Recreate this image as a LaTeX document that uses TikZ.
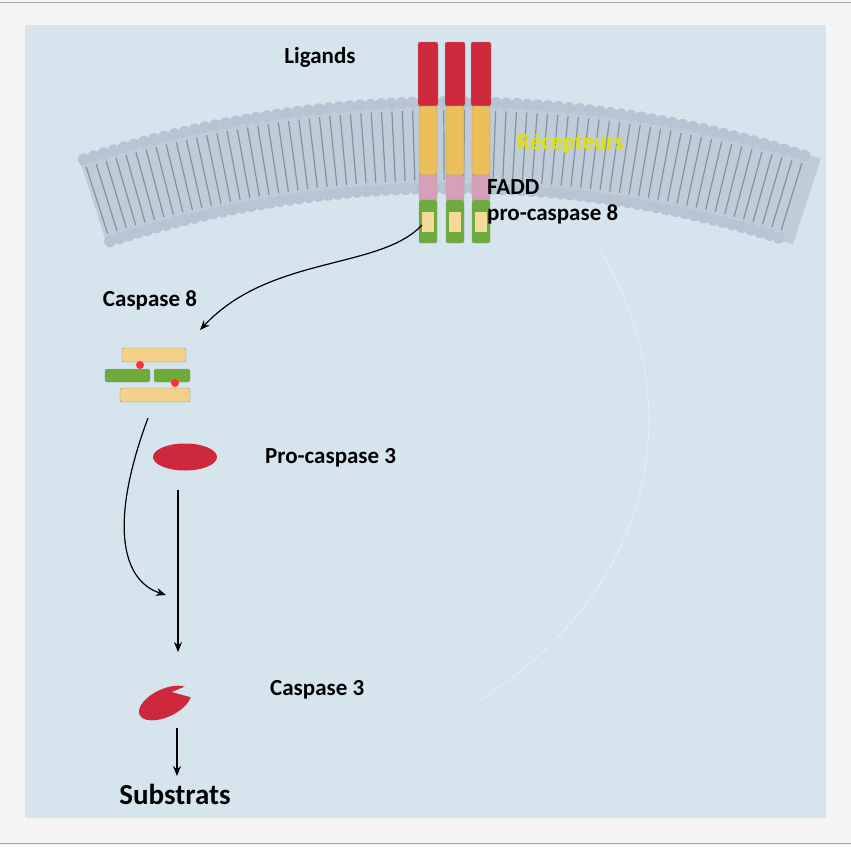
\documentclass[tikz,border=0pt]{standalone}
\usepackage{fontspec}
\setmainfont{Carlito}
\usetikzlibrary{arrows.meta,shapes.geometric}
\definecolor{panel}{RGB}{214,229,237}
\definecolor{lipid}{RGB}{150,172,192}
\definecolor{rodred}{RGB}{205,40,60}
\definecolor{rodyel}{RGB}{236,190,90}
\definecolor{rodpink}{RGB}{215,160,185}
\definecolor{rodgreen}{RGB}{110,170,60}
\definecolor{labyel}{RGB}{225,225,0}

\begin{document}
\begin{tikzpicture}[x=1pt,y=-1pt,
    lab/.style={font=\bfseries\fontsize{23}{25}\selectfont,inner sep=0pt},
    link/.style={line width=1.2pt,-{Stealth[length=10pt,width=8pt]}},
    rod/.style={draw=black!40,line width=0.4pt,rounded corners=2pt}]
    % frame and panel
    \useasboundingbox (0,0) rectangle (851,846);
    \fill[gray!8] (0,0) rectangle (851,846);
    \draw[gray!70,thick] (0,2) -- (851,2) (0,843) -- (851,843);
    \fill[panel] (25,25) rectangle (826,818);
    \draw[white!40!panel,thick] (600,250) .. controls (700,420) and (640,600) .. (480,700);
    % membrane
    \fill[lipid!60] ({450+1200*sin(-18)},{1300-1200*cos(-18)})
        \foreach \a in {-17,-16,...,18}{ -- ({450+1200*sin(\a)},{1300-1200*cos(\a)}) }
        \foreach \a in {18,17,...,-18}{ -- ({450+1110*sin(\a)},{1300-1110*cos(\a)}) } -- cycle;
    \foreach \a in {-17.8,-17.3,...,17.6}{
        \draw[lipid!85!black,line width=1.2pt] ({450+1190*sin(\a)},{1300-1190*cos(\a)}) -- ({450+1120*sin(\a)},{1300-1120*cos(\a)});
        \fill[lipid!70!white] ({450+1198*sin(\a)},{1300-1198*cos(\a)}) circle (6);
        \fill[lipid!70!white] ({450+1112*sin(\a)},{1300-1112*cos(\a)}) circle (6);
    }
    % receptors
    \foreach \x in {428,455,481}{
        \filldraw[rod,fill=rodred] (\x-10,42) rectangle (\x+10,106);
        \filldraw[rod,fill=rodyel] (\x-9,106) rectangle (\x+9,175);
        \filldraw[rod,fill=rodpink] (\x-9,175) rectangle (\x+9,200);
        \filldraw[rod,fill=rodgreen] (\x-9,200) rectangle (\x+9,243);
        \fill[rodyel!60!white] (\x-6,212) rectangle (\x+6,232);
    }
    \node (recep) at (455,225) {};
    % caspase 8
    \filldraw[rod,fill=rodyel!70!white] (122,348) rectangle (186,362);
    \filldraw[rod,fill=rodgreen] (105,369) rectangle (150,382);
    \filldraw[rod,fill=rodgreen] (154,369) rectangle (190,382);
    \filldraw[rod,fill=rodyel!70!white] (120,388) rectangle (190,402);
    \fill[red!80] (140,365) circle (4) (175,383) circle (4);
    \node (casp8) at (148,375) {};
    % caspase 3
    \node[ellipse,fill=rodred,minimum width=64pt,minimum height=27pt] (pro3) at (185,457) {};
    \fill[rodred,rotate around={25:(165,703)}] (165,703) ellipse (28 and 14);
    \fill[panel] (172,692) -- (196,682) -- (194,698) -- cycle;
    \node (c3) at (165,703) {};
    % labels
    \node[lab] (ligands) at (320,57) {Ligands};
    \node[lab,text=labyel,anchor=west] (rlab) at (517,143) {Récepteurs};
    \node[lab,anchor=west] (fadd) at (487,187) {FADD};
    \node[lab,anchor=west] (pro8) at (487,214) {pro-caspase 8};
    \node[lab] (l8) at (150,300) {Caspase 8};
    \node[lab,anchor=west] (lpro3) at (265,458) {Pro-caspase 3};
    \node[lab,anchor=west] (l3) at (270,690) {Caspase 3};
    \node[lab,font=\bfseries\fontsize{29}{31}\selectfont] (sub) at (175,794) {Substrats};
    \coordinate (a1) at (422,225);
    \coordinate (b1) at (200,330);
    \coordinate (a2) at (148,418);
    \coordinate (b2) at (166,595);
    \coordinate (a3) at (178,490);
    \coordinate (b3) at (178,652);
    \coordinate (a4) at (177,728);
    \coordinate (b4) at (177,776);
    % connectors
    \draw[link] (a1) .. controls (380,270) and (270,255) .. (b1);
    \draw[link] (a2) .. controls (110,520) and (120,580) .. (b2);
    \draw[link] (a3) -- (b3);
    \draw[link] (a4) -- (b4);
\end{tikzpicture}
\end{document}
